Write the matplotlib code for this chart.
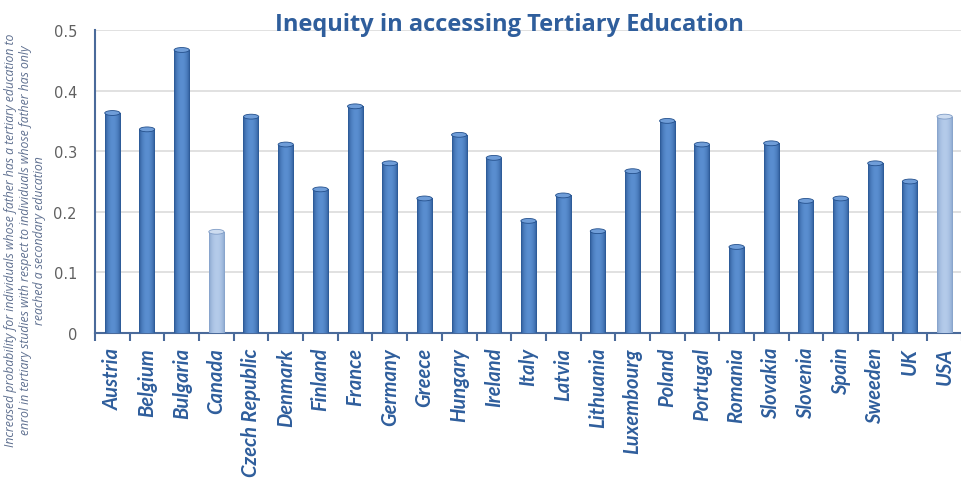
import numpy as np
import matplotlib
matplotlib.use('Agg')
import matplotlib.pyplot as plt
from matplotlib.patches import Ellipse

# Datos
paises = ['Austria', 'Belgium', 'Bulgaria', 'Canada', 'Czech Republic', 'Denmark',
          'Finland', 'France', 'Germany', 'Greece', 'Hungary', 'Ireland', 'Italy',
          'Latvia', 'Lithuania', 'Luxembourg', 'Poland', 'Portugal', 'Romania',
          'Slovakia', 'Slovenia', 'Spain', 'Sweeden', 'UK', 'USA']
valores = [0.363, 0.336, 0.467, 0.167, 0.357, 0.311, 0.237, 0.374, 0.280, 0.222,
           0.327, 0.289, 0.185, 0.227, 0.168, 0.267, 0.350, 0.311, 0.142, 0.313,
           0.218, 0.222, 0.280, 0.250, 0.357]
resaltados = ['Canada', 'USA']

titulo = 'Inequity in accessing Tertiary Education'
ylabel = ('Increased probability for individuals whose father has a tertiary education to\n'
          'enrol in tertiary studies with respect to individuals whose father has only\n'
          'reached a secondary education')

AZUL = '#2f5e9c'
W = 0.44

fig = plt.figure(figsize=(9.62, 4.81), dpi=100)
ax = fig.add_axes([0.0988, 0.3056, 0.9012, 0.63])

x = np.arange(len(paises))
grad = np.linspace(0, 1, 64)
# perfil cilíndrico: oscuro en bordes, claro en el centro
perfil = np.sin(grad * np.pi) ** 0.6


def mezcla(c1, c2, t):
    c1 = np.array(matplotlib.colors.to_rgb(c1))
    c2 = np.array(matplotlib.colors.to_rgb(c2))
    return c1[None, :] * (1 - t[:, None]) + c2[None, :] * t[:, None]


for xi, v, p in zip(x, valores, paises):
    if p in resaltados:
        borde, centro, tapa = '#7f9cc6', '#b4cbea', '#cddcf0'
    else:
        borde, centro, tapa = '#24508c', '#5a8ed0', '#6f9dd8'
    barra = ax.bar(xi, v, width=W, color=borde, edgecolor='none', zorder=3)[0]
    img = mezcla(borde, centro, perfil)[None, :, :]
    im = ax.imshow(img, extent=(xi - W / 2, xi + W / 2, 0, v), aspect='auto',
                   zorder=3.5, interpolation='bilinear')
    im.set_clip_path(barra)
    ax.add_patch(Ellipse((xi, v), W, 0.008, facecolor=tapa, edgecolor=borde,
                         linewidth=0.6, zorder=4))
    ax.add_patch(Ellipse((xi, 0), W, 0.008, facecolor=borde, edgecolor='none', zorder=2.9))

ax.set_xlim(-0.5, len(paises) - 0.5)
ax.set_ylim(0, 0.5)
ax.set_yticks([0, 0.1, 0.2, 0.3, 0.4, 0.5])
ax.set_yticklabels(['0', '0.1', '0.2', '0.3', '0.4', '0.5'])
ax.tick_params(axis='y', length=0, pad=13, labelsize=10.5, labelcolor='#606060')
ax.yaxis.grid(True, color='#dcdcdc', linewidth=1.2, zorder=0)
ax.set_axisbelow(True)

ax.set_xticks(x)
ax.set_xticklabels(paises, rotation=90, fontsize=14.5, fontstyle='italic',
                   fontweight='bold', color=AZUL, family='Lato')
ax.tick_params(axis='x', which='major', length=0, pad=10)
ax.set_xticks(np.arange(len(paises) + 1) - 0.5, minor=True)
ax.tick_params(axis='x', which='minor', length=6, width=1.5, color='#4a6a9a', direction='out')

for s in ['top', 'right']:
    ax.spines[s].set_visible(False)
ax.spines['left'].set_color('#4a6a9a')
ax.spines['left'].set_linewidth(1.5)
ax.spines['bottom'].set_color('#4a6a9a')
ax.spines['bottom'].set_linewidth(1.5)

fig.text(0.53, 0.948, titulo, ha='center', va='center', fontsize=17,
         fontweight='bold', color=AZUL, family='Open Sans')
fig.text(0.026, 0.5, ylabel, rotation=90, ha='center', va='center', fontsize=8.8,
         fontstyle='italic', color='#5f7090', family='Open Sans', linespacing=1.15)

fig.savefig('out.png', dpi=100)
